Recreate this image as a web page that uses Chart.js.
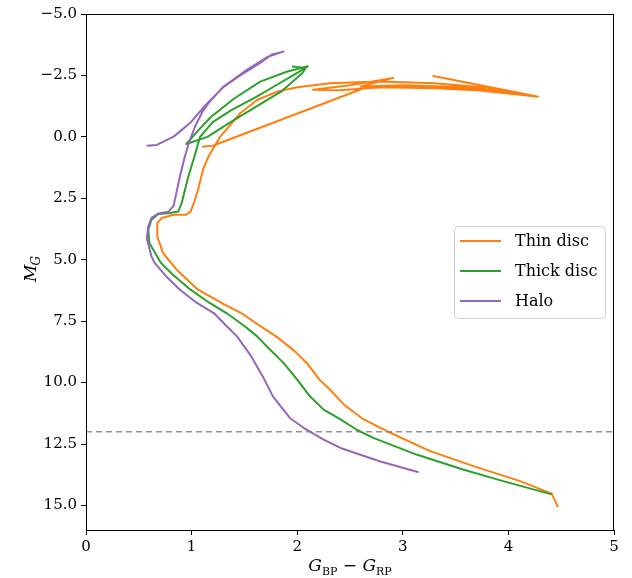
<!DOCTYPE html>
<html><head><meta charset="utf-8">
<script src="https://cdn.jsdelivr.net/npm/chart.js@4.4.0/dist/chart.umd.min.js"></script>
<style>html,body{margin:0;padding:0;background:#fff}#wrap{width:632px;height:578px}</style>
</head><body><div id="wrap"><canvas id="c" width="632" height="578"></canvas></div>
<script>
// ---- data ----
const seriesNames = ['Thin disc', 'Thick disc', 'Halo'];
const seriesColors = ['#ff7f0e', '#2ca02c', '#9467bd'];

const thinDiscColor = [4.47,4.41,4.11,3.67,3.26,2.85,2.63,2.44,2.31,2.21,2.09,1.97,1.80,1.65,1.47,1.30,1.06,0.86,0.73,0.675,0.675,0.717,0.83,0.95,0.99,1.03,1.07,1.11,1.16,1.27,1.46,1.62,1.81,2.00,2.31,2.78,
  3.30,3.80,4.28,3.80,3.30,2.80,2.40,2.15,2.50,2.91,2.60,3.00,3.60,4.25,3.29,4.27,3.60,3.00,2.63,1.20,1.10];
const thinDiscMag = [15.07,14.52,14.01,13.40,12.79,11.98,11.50,10.89,10.28,9.88,9.20,8.70,8.12,7.70,7.17,6.80,6.22,5.41,4.73,4.05,3.51,3.30,3.17,3.17,3.04,2.60,2.00,1.30,0.80,0.00,-0.96,-1.50,-1.84,-2.02,-2.18,-2.25,
  -2.18,-2.00,-1.63,-1.88,-1.98,-2.02,-1.90,-1.92,-2.10,-2.40,-2.05,-2.10,-2.02,-1.66,-2.48,-1.64,-1.95,-2.05,-1.98,0.36,0.40];

const thickDiscColor = [4.41,3.95,3.57,3.13,2.72,2.56,2.41,2.25,2.12,2.00,1.87,1.73,1.62,1.50,1.33,1.17,0.99,0.82,0.71,0.60,0.59,0.62,0.685,0.795,0.874,0.906,0.94,0.97,1.02,1.08,1.20,1.38,1.60,1.80,2.00,2.10,
  1.90,1.65,1.40,1.18,1.05,0.95,1.15,1.35,1.60,1.85,2.05,2.08,1.95];
const thickDiscMag = [14.55,14.01,13.54,12.93,12.25,11.91,11.50,11.10,10.56,9.88,9.20,8.60,8.12,7.70,7.17,6.76,6.22,5.60,5.13,4.32,3.78,3.37,3.14,3.10,3.04,2.70,2.10,1.60,0.90,0.00,-0.60,-1.10,-1.60,-2.10,-2.60,-2.87,
  -2.65,-2.25,-1.55,-0.80,-0.20,0.29,0.00,-0.55,-1.20,-1.85,-2.60,-2.80,-2.86];

const haloColor = [3.15,2.78,2.41,2.25,2.06,1.93,1.77,1.68,1.56,1.43,1.33,1.21,1.05,0.89,0.76,0.65,0.62,0.575,0.59,0.62,0.685,0.78,0.83,0.86,0.89,0.93,0.97,1.03,1.10,1.17,1.30,1.52,1.72,1.87,
  1.76,1.66,1.46,1.30,1.14,0.985,0.83,0.67,0.575];
const haloMag = [13.65,13.20,12.66,12.32,11.84,11.44,10.56,9.80,8.90,8.12,7.70,7.17,6.76,6.22,5.68,5.13,4.87,4.12,3.65,3.30,3.12,3.05,2.80,2.20,1.60,0.90,0.30,-0.40,-1.00,-1.43,-2.04,-2.72,-3.26,-3.47,
  -3.35,-3.04,-2.50,-2.02,-1.33,-0.56,-0.01,0.33,0.36];

const cutMag = 12;
const xTicks = [0, 1, 2, 3, 4, 5];
const yTicks = [-5, -2.5, 0, 2.5, 5, 7.5, 10, 12.5, 15];
const xRange = [0, 5];
const yRange = [-5, 16];

// ---- build ----
const zip = (xs, ys) => xs.map((x, i) => ({ x: x, y: ys[i] }));
const curves = [zip(thinDiscColor, thinDiscMag), zip(thickDiscColor, thickDiscMag), zip(haloColor, haloMag)];
const FONT = "'DejaVu Serif', 'Liberation Serif', serif";

const datasets = curves.map((d, i) => ({
  label: seriesNames[i], data: d, showLine: true, borderColor: seriesColors[i], backgroundColor: seriesColors[i],
  borderWidth: 2, pointRadius: 0, tension: 0, borderJoinStyle: 'round', borderCapStyle: 'butt', order: 4 - i, fill: false
}));
datasets.push({
  label: 'cut', data: [{ x: xRange[0], y: cutMag }, { x: xRange[1], y: cutMag }], showLine: true,
  borderColor: 'rgba(128,128,128,0.85)', borderDash: [6, 4], borderWidth: 1.5, pointRadius: 0, order: 1
});

const framePlugin = {
  id: 'frame',
  afterDraw(chart) {
    const { ctx, chartArea: a } = chart;
    ctx.save();
    ctx.strokeStyle = '#000'; ctx.lineWidth = 1;
    ctx.strokeRect(Math.round(a.left) + 0.5, Math.round(a.top) + 0.5, Math.round(a.right - a.left) - 1, Math.round(a.bottom - a.top));
    // legend
    const lx = 454.5, ly = 226.5, lw = 151, lh = 92, r = 4;
    ctx.beginPath();
    ctx.moveTo(lx + r, ly); ctx.lineTo(lx + lw - r, ly); ctx.arcTo(lx + lw, ly, lx + lw, ly + r, r);
    ctx.lineTo(lx + lw, ly + lh - r); ctx.arcTo(lx + lw, ly + lh, lx + lw - r, ly + lh, r);
    ctx.lineTo(lx + r, ly + lh); ctx.arcTo(lx, ly + lh, lx, ly + lh - r, r);
    ctx.lineTo(lx, ly + r); ctx.arcTo(lx, ly, lx + r, ly, r); ctx.closePath();
    ctx.fillStyle = 'rgba(255,255,255,0.85)'; ctx.fill();
    ctx.strokeStyle = '#d0d0d0'; ctx.stroke();
    seriesNames.forEach((n, i) => {
      const y = 241 + i * 30;
      ctx.strokeStyle = seriesColors[i]; ctx.lineWidth = 2;
      ctx.beginPath(); ctx.moveTo(460, y); ctx.lineTo(501, y); ctx.stroke();
      ctx.fillStyle = '#000'; ctx.font = '16px ' + FONT; ctx.textBaseline = 'middle'; ctx.textAlign = 'left';
      ctx.fillText(n, 515, y + 1);
    });
    // axis titles
    ctx.fillStyle = '#000';
    ctx.textBaseline = 'alphabetic';
    // y title: M_G
    ctx.save();
    ctx.translate(36, (a.top + a.bottom) / 2 + 10);
    ctx.rotate(-Math.PI / 2);
    ctx.font = 'italic 17px ' + FONT; ctx.textAlign = 'left';
    ctx.fillText('M', 0, 0);
    const mw = ctx.measureText('M').width;
    ctx.font = 'italic 12px ' + FONT;
    ctx.fillText('G', mw - 1, 4);
    ctx.restore();
    // x title: G_BP − G_RP
    const parts = [
      { t: 'G', f: 'italic 17px ', dy: 0 }, { t: 'BP', f: '11px ', dy: 4 },
      { t: ' \u2212 ', f: '17px ', dy: 0 }, { t: 'G', f: 'italic 17px ', dy: 0 }, { t: 'RP', f: '11px ', dy: 4 }
    ];
    let tw = 0;
    parts.forEach(p => { ctx.font = p.f + FONT; p.w = ctx.measureText(p.t).width; tw += p.w; });
    let x = (a.left + a.right) / 2 - tw / 2, by = 571;
    ctx.textAlign = 'left';
    parts.forEach(p => { ctx.font = p.f + FONT; ctx.fillText(p.t, x, by + p.dy); x += p.w; });
    ctx.restore();
  }
};

const fmtY = v => (v < 0 ? '\u2212' : '') + Math.abs(v).toFixed(1);
const tickFont = { family: FONT, size: 15 };

new Chart(document.getElementById('c'), {
  type: 'scatter',
  data: { datasets: datasets },
  options: {
    responsive: false, animation: false, devicePixelRatio: 1,
    layout: { padding: { top: 14, right: 18, left: 0, bottom: 0 } },
    plugins: { legend: { display: false }, tooltip: { enabled: false } },
    scales: {
      x: {
        type: 'linear', min: xRange[0], max: xRange[1],
        afterBuildTicks: s => { s.ticks = xTicks.map(v => ({ value: v })); },
        afterFit: s => { s.height = 48; },
        ticks: { callback: v => String(v), font: tickFont, color: '#000', padding: 3, maxRotation: 0, autoSkip: false },
        grid: { display: true, drawOnChartArea: false, drawTicks: true, tickLength: 5, color: '#000' },
        border: { display: true, color: '#000' }
      },
      y: {
        type: 'linear', min: yRange[0], max: yRange[1], reverse: true,
        afterBuildTicks: s => { s.ticks = yTicks.map(v => ({ value: v })); },
        afterFit: s => { s.width = 86; },
        ticks: { callback: v => fmtY(v), font: tickFont, color: '#000', padding: 4, autoSkip: false },
        grid: { display: true, drawOnChartArea: false, drawTicks: true, tickLength: 5, color: '#000' },
        border: { display: true, color: '#000' }
      }
    }
  },
  plugins: [framePlugin]
});
</script></body></html>
